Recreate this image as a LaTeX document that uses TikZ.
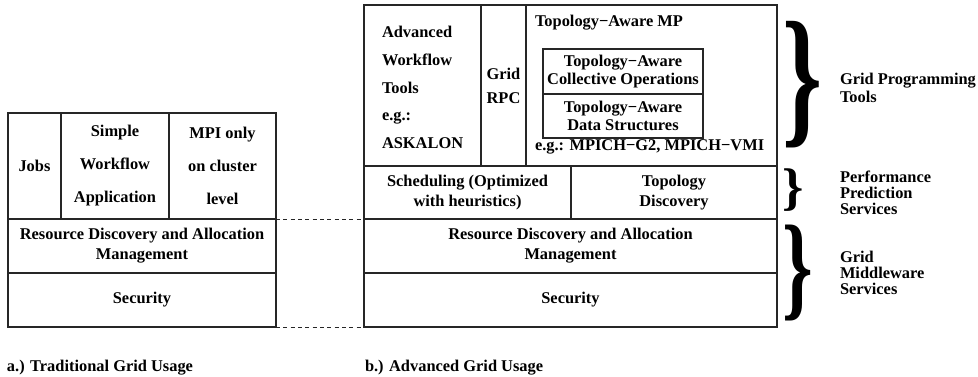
\documentclass[tikz,border=0pt]{standalone}
\usepackage{fontspec}
\setmainfont{Liberation Serif}
\usepackage{graphicx}
\newcommand{\gcell}[7][]{%
  \node[frame, align=center, minimum width={(#5-#3)*0.75pt}, minimum height={(#6-#4)*0.75pt}, #1] (#2) at ({(#3+#5)/2},{(#4+#6)/2}) {#7};}
\newcommand{\mn}{\symbol{"2212}}
\begin{document}
\begin{tikzpicture}[x=0.75pt,y=-0.75pt,
  every node/.style={font=\bfseries\fontsize{12.3}{15}\selectfont, inner sep=0pt, outer sep=0pt},
  frame/.style={draw=black!85, line width=0.8pt},
  lead/.style={font=\bfseries\fontsize{12.3}{#1}\selectfont, align=center},
  dashline/.style={draw=black!85, line width=0.6pt, dash pattern=on 3pt off 2.5pt}]
\useasboundingbox (0,0) rectangle (978,376);
% left block
\gcell{ljobs}{8}{113}{61}{219}{Jobs}
\gcell[lead=24.75]{lwf}{61}{113}{169}{219}{Simple\\Workflow\\Application}
\gcell[lead=24.75]{lmpi}{169}{113}{276}{219}{MPI only\\on cluster\\level}
\gcell{lres}{8}{219}{276}{273}{Resource Discovery and Allocation\\Management}
\gcell{lsec}{8}{273}{276}{327}{Security}
% right block
\gcell{radv}{364}{5}{481}{166}{}
\gcell[lead=18]{rrpc}{481}{5}{526}{166}{Grid\\RPC}
\gcell{rmp}{526}{5}{777}{166}{}
\gcell[lead=13.5]{rcoll}{543}{49}{703}{94}{Topology\mn Aware\\Collective Operations}
\gcell[lead=13.5]{rdata}{543}{94}{703}{138}{Topology\mn Aware\\Data Structures}
\gcell{rsched}{364}{166}{571}{219}{Scheduling (Optimized\\with heuristics)}
\gcell{rtopo}{571}{166}{777}{219}{Topology\\Discovery}
\gcell{rres}{364}{219}{777}{273}{Resource Discovery and Allocation\\Management}
\gcell{rsec}{364}{273}{777}{327}{Security}
% free texts in right block
\node[anchor=west, lead=20.7, align=left] (tadv) at (382,87.5) {Advanced\\Workflow\\Tools\\e.g.:\\ASKALON};
\node[anchor=west] (tmp) at (535,23) {Topology\mn Aware MP};
\node[anchor=west] (teg) at (535,147) {e.g.: MPICH\mn G2, MPICH\mn VMI};
% dashed connectors
\draw[dashline] (lres.north east) -- (rres.north west);
\draw[dashline] (lsec.south east) -- (rsec.south west);
% braces
\node[anchor=west] (br1) at (782,85) {\resizebox*{30pt}{95pt}{\}}};
\node[anchor=west] (br2) at (782,190) {\resizebox*{16pt}{32pt}{\}}};
\node[anchor=west] (br3) at (782,273) {\resizebox*{23pt}{72pt}{\}}};
% labels
\node[anchor=west, lead=13, align=left] (lgpt) at (840,88) {Grid Programming\\Tools};
\node[anchor=west, lead=12, align=left] (lpps) at (840,193) {Performance\\Prediction\\Services};
\node[anchor=west, lead=12, align=left] (lgms) at (840,273) {Grid\\Middleware\\Services};
% captions
\node[anchor=base west] (capa) at (7,371) {a.) Traditional Grid Usage};
\node[anchor=base west] (capb) at (365,371) {b.) Advanced Grid Usage};
\end{tikzpicture}
\end{document}
